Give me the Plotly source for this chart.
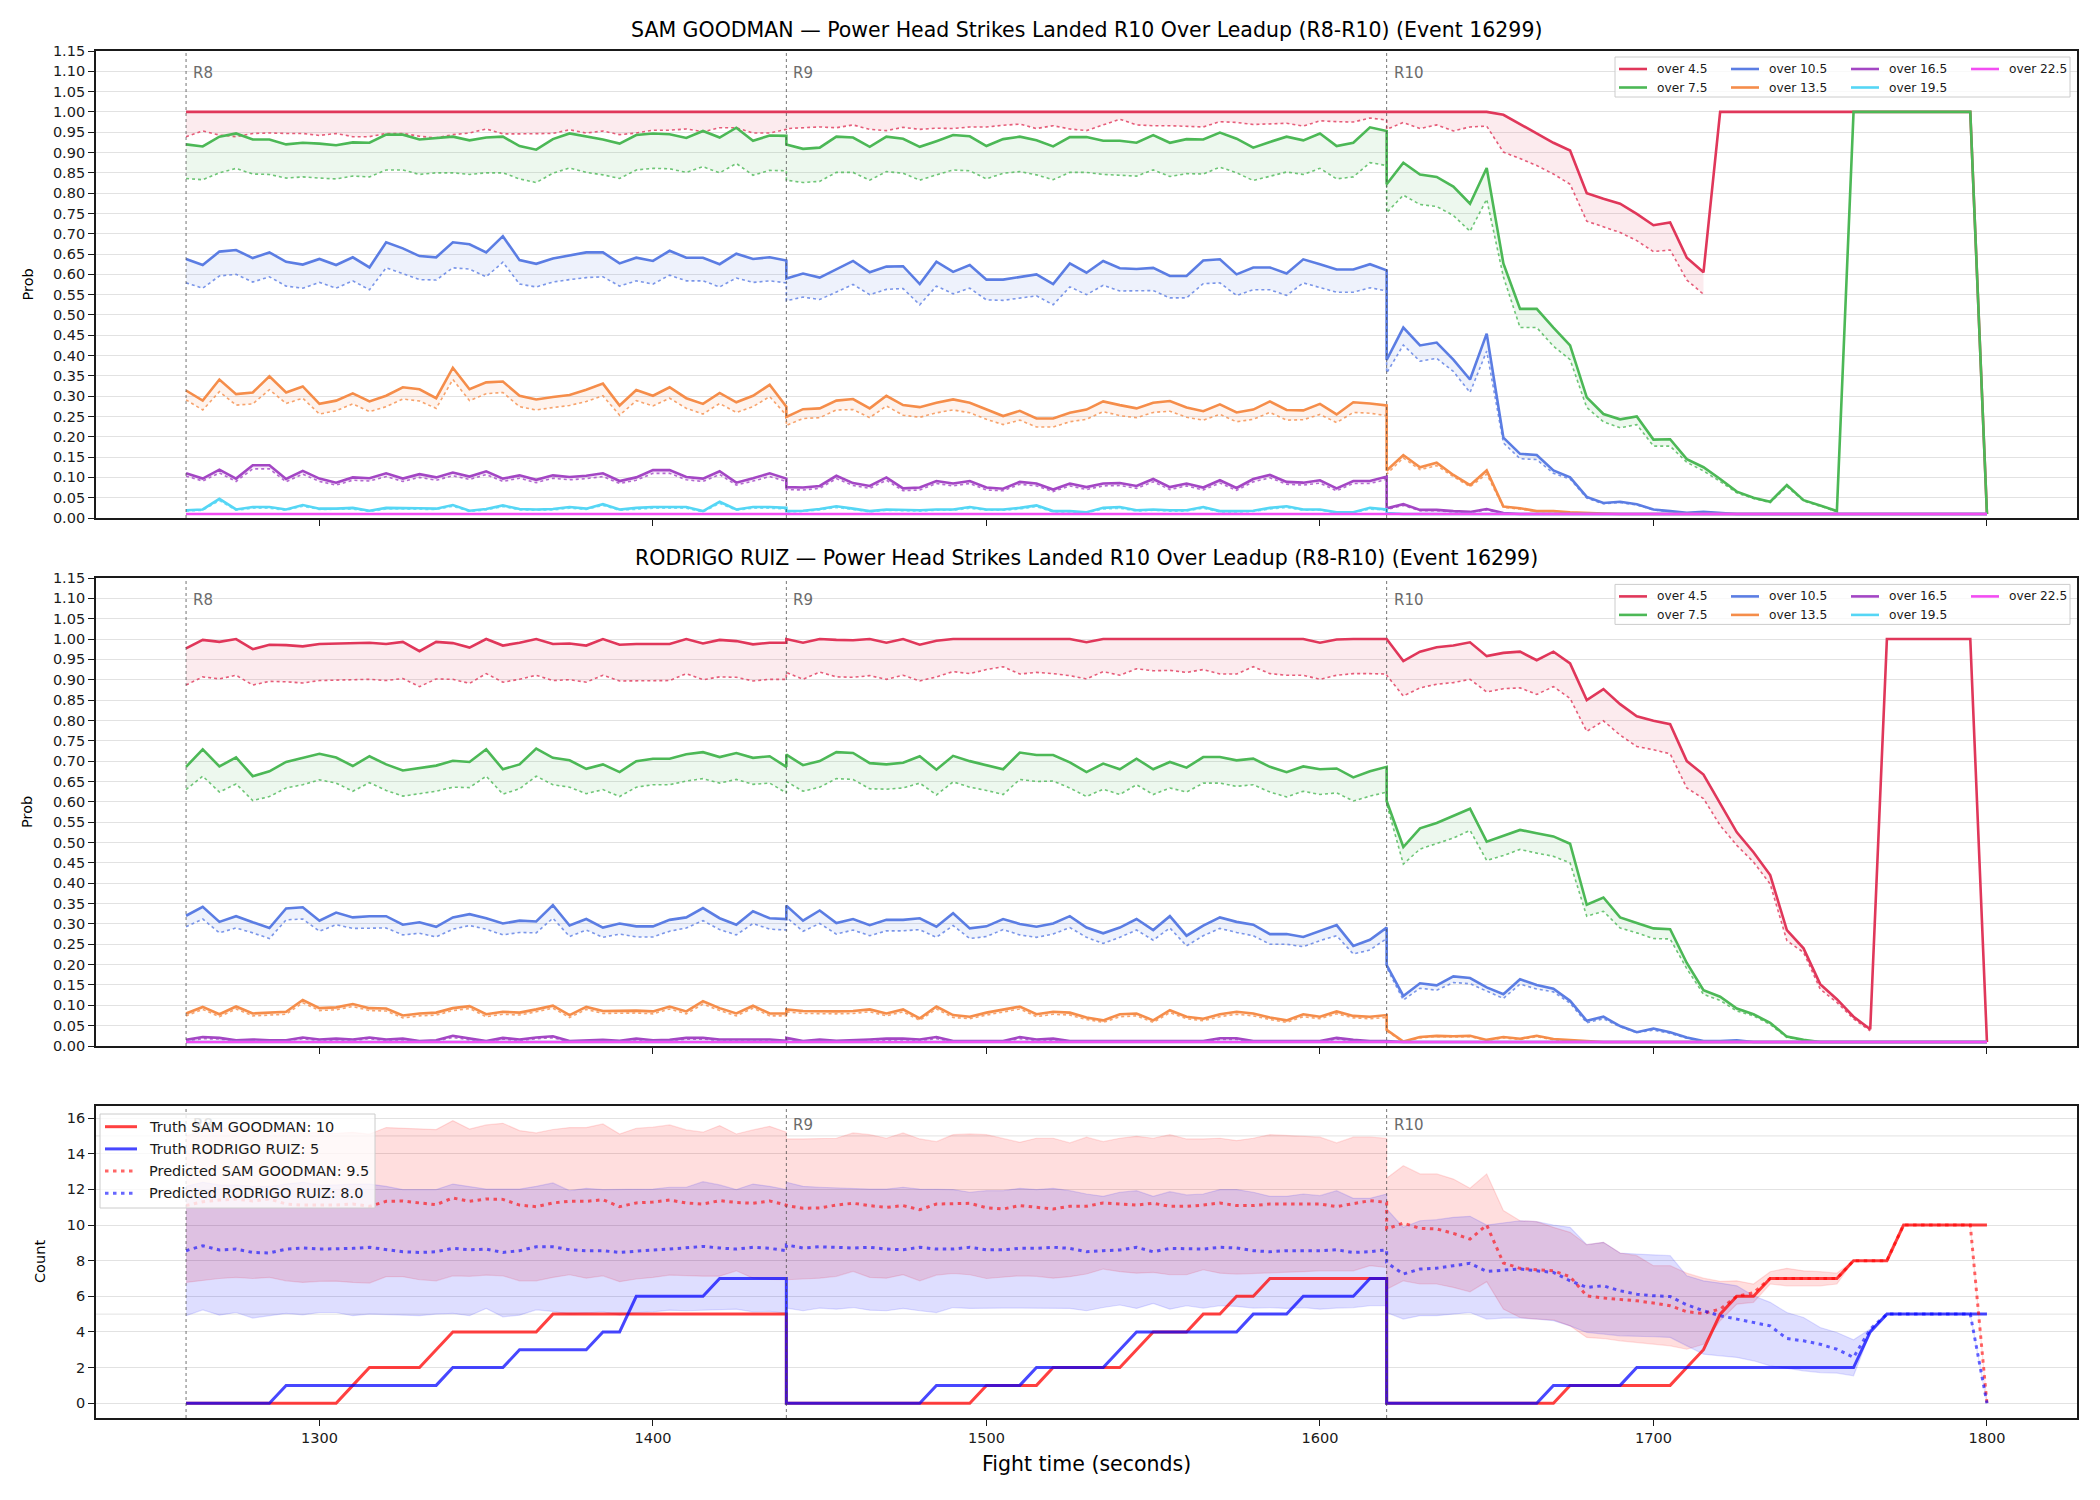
import plotly.graph_objects as go

W, H = 2100, 1500


def px(x):
    return x / W


def py(y):
    return 1 - y / H


# ---------------- time grid (each round sampled every 5 s) ----------------
ROUND_STARTS = [1260, 1440, 1620]
ROUND_NAMES = ["R8", "R9", "R10"]
T = [s + t for s in ROUND_STARTS for t in range(0, 181, 5)]

THRESHOLDS = ["over 4.5", "over 7.5", "over 10.5", "over 13.5", "over 16.5", "over 19.5", "over 22.5"]
COLORS = ["#E0375A", "#4CB856", "#5B7DE3", "#F58D4A", "#A346C4", "#55D6F5", "#F24DF2"]

# ---------------- SAM GOODMAN: solid prob + dotted lower ----------------
SAM_45 = ([1.0] * 37 + [1.0] * 37 +
          [1.0, 1.0, 1.0, 1.0, 1.0, 1.0, 1.0, 0.993, 0.970, 0.947, 0.924, 0.905, 0.800, 0.786, 0.774, 0.749, 0.721, 0.728, 0.641, 0.605]
          + [1.0] * 16 + [0.01])
SAM_45_LO = ([0.939, 0.953, 0.943, 0.939, 0.947, 0.948, 0.947, 0.947, 0.942, 0.947, 0.939, 0.939, 0.947, 0.947, 0.940, 0.936, 0.944, 0.948, 0.958, 0.946,
              0.946, 0.947, 0.947, 0.956, 0.948, 0.953, 0.944, 0.948, 0.955, 0.955, 0.958, 0.951, 0.961, 0.961, 0.948, 0.948, 0.957] +
             [0.959, 0.961, 0.963, 0.961, 0.968, 0.957, 0.954, 0.962, 0.957, 0.960, 0.959, 0.963, 0.963, 0.967, 0.970, 0.959, 0.966, 0.958, 0.954, 0.968,
              0.982, 0.968, 0.966, 0.966, 0.965, 0.963, 0.976, 0.974, 0.969, 0.970, 0.972, 0.965, 0.978, 0.976, 0.975, 0.985, 0.980] +
             [0.957, 0.974, 0.959, 0.968, 0.953, 0.963, 0.965, 0.901, 0.885, 0.868, 0.847, 0.822, 0.731, 0.717, 0.703, 0.683, 0.656, 0.660, 0.586, 0.551]
             + [None] * 17)
SAM_75 = ([0.920, 0.915, 0.939, 0.947, 0.932, 0.932, 0.920, 0.924, 0.922, 0.918, 0.925, 0.924, 0.944, 0.944, 0.932, 0.935, 0.939, 0.930, 0.937, 0.939,
           0.916, 0.907, 0.933, 0.947, 0.939, 0.932, 0.922, 0.943, 0.947, 0.945, 0.936, 0.953, 0.937, 0.961, 0.929, 0.942, 0.941] +
          [0.920, 0.909, 0.912, 0.939, 0.937, 0.914, 0.939, 0.934, 0.914, 0.928, 0.943, 0.940, 0.916, 0.933, 0.939, 0.930, 0.915, 0.938, 0.938, 0.929,
           0.929, 0.924, 0.943, 0.924, 0.933, 0.932, 0.949, 0.934, 0.912, 0.926, 0.939, 0.930, 0.947, 0.916, 0.924, 0.962, 0.953] +
          [0.822, 0.875, 0.846, 0.840, 0.816, 0.774, 0.862, 0.627, 0.515, 0.515, 0.469, 0.425, 0.297, 0.256, 0.243, 0.250, 0.193, 0.194, 0.145, 0.125,
           0.096, 0.065, 0.050, 0.040, 0.081, 0.044, 0.031, 0.017] + [1.0] * 8 + [0.01])
SAM_75_LO = ([0.836, 0.833, 0.850, 0.861, 0.847, 0.846, 0.837, 0.840, 0.837, 0.835, 0.842, 0.840, 0.857, 0.857, 0.846, 0.850, 0.850, 0.846, 0.850, 0.850,
              0.835, 0.826, 0.849, 0.862, 0.851, 0.845, 0.836, 0.857, 0.861, 0.860, 0.851, 0.865, 0.850, 0.873, 0.844, 0.856, 0.855] +
             [0.832, 0.826, 0.829, 0.851, 0.851, 0.832, 0.853, 0.849, 0.832, 0.845, 0.857, 0.855, 0.835, 0.849, 0.853, 0.845, 0.833, 0.851, 0.851, 0.846,
              0.844, 0.842, 0.857, 0.841, 0.848, 0.847, 0.864, 0.850, 0.831, 0.841, 0.852, 0.846, 0.861, 0.835, 0.840, 0.875, 0.868] +
             [0.752, 0.795, 0.772, 0.767, 0.745, 0.706, 0.785, 0.594, 0.469, 0.469, 0.423, 0.390, 0.272, 0.237, 0.222, 0.230, 0.177, 0.177, 0.137, 0.116,
              0.090, 0.062, 0.048, 0.038, 0.078, 0.042, 0.029, 0.016] + [None] * 9)
SAM_105 = ([0.638, 0.623, 0.656, 0.660, 0.640, 0.654, 0.631, 0.624, 0.638, 0.623, 0.642, 0.617, 0.679, 0.664, 0.645, 0.642, 0.679, 0.674, 0.654, 0.694,
            0.635, 0.626, 0.639, 0.646, 0.654, 0.654, 0.627, 0.641, 0.633, 0.658, 0.641, 0.641, 0.625, 0.651, 0.638, 0.642, 0.634] +
           [0.590, 0.602, 0.592, 0.612, 0.633, 0.605, 0.619, 0.620, 0.576, 0.631, 0.606, 0.623, 0.587, 0.587, 0.594, 0.600, 0.576, 0.627, 0.604, 0.633,
            0.615, 0.613, 0.616, 0.596, 0.596, 0.634, 0.637, 0.600, 0.617, 0.617, 0.602, 0.637, 0.625, 0.612, 0.612, 0.625, 0.610] +
           [0.389, 0.469, 0.425, 0.432, 0.390, 0.341, 0.454, 0.198, 0.158, 0.155, 0.117, 0.100, 0.052, 0.037, 0.040, 0.034, 0.021, 0.017, 0.013, 0.015,
            0.012] + [0.01] * 16)
SAM_105_LO = ([0.579, 0.566, 0.596, 0.600, 0.581, 0.594, 0.571, 0.566, 0.580, 0.566, 0.584, 0.562, 0.616, 0.602, 0.587, 0.586, 0.616, 0.613, 0.594, 0.630,
               0.576, 0.569, 0.581, 0.587, 0.592, 0.594, 0.571, 0.584, 0.576, 0.598, 0.584, 0.584, 0.569, 0.591, 0.580, 0.584, 0.579] +
              [0.535, 0.544, 0.538, 0.556, 0.575, 0.550, 0.563, 0.565, 0.525, 0.571, 0.552, 0.566, 0.537, 0.536, 0.542, 0.547, 0.525, 0.569, 0.550, 0.573,
               0.559, 0.559, 0.560, 0.542, 0.542, 0.577, 0.579, 0.548, 0.562, 0.562, 0.548, 0.579, 0.567, 0.556, 0.556, 0.567, 0.559] +
              [0.357, 0.426, 0.386, 0.393, 0.361, 0.309, 0.411, 0.185, 0.146, 0.144, 0.110, 0.096, 0.049, 0.035, 0.038, 0.032, 0.020, 0.016, 0.012, 0.014,
               0.011] + [0.01] * 16)
SAM_135 = ([0.314, 0.289, 0.341, 0.305, 0.309, 0.349, 0.309, 0.324, 0.281, 0.289, 0.307, 0.287, 0.301, 0.322, 0.317, 0.295, 0.370, 0.317, 0.334, 0.336,
            0.301, 0.292, 0.298, 0.303, 0.316, 0.331, 0.277, 0.315, 0.301, 0.322, 0.295, 0.281, 0.308, 0.285, 0.301, 0.328, 0.274] +
           [0.249, 0.268, 0.270, 0.289, 0.293, 0.270, 0.301, 0.278, 0.273, 0.284, 0.292, 0.284, 0.268, 0.251, 0.264, 0.245, 0.245, 0.259, 0.267, 0.287,
            0.278, 0.270, 0.284, 0.288, 0.272, 0.263, 0.280, 0.260, 0.267, 0.287, 0.266, 0.265, 0.281, 0.255, 0.285, 0.282, 0.277] +
           [0.117, 0.155, 0.125, 0.136, 0.106, 0.081, 0.117, 0.028, 0.024, 0.017, 0.017, 0.014, 0.012, 0.011] + [0.01] * 23)
SAM_135_LO = ([0.291, 0.266, 0.311, 0.278, 0.281, 0.316, 0.282, 0.295, 0.256, 0.264, 0.281, 0.262, 0.274, 0.293, 0.288, 0.270, 0.341, 0.289, 0.306, 0.309,
               0.274, 0.266, 0.272, 0.277, 0.287, 0.301, 0.253, 0.289, 0.276, 0.295, 0.270, 0.256, 0.282, 0.260, 0.274, 0.299, 0.253] +
              [0.228, 0.245, 0.247, 0.266, 0.267, 0.247, 0.276, 0.253, 0.248, 0.259, 0.266, 0.259, 0.243, 0.230, 0.241, 0.224, 0.224, 0.237, 0.243, 0.262,
               0.252, 0.247, 0.260, 0.263, 0.248, 0.241, 0.255, 0.237, 0.243, 0.260, 0.241, 0.242, 0.255, 0.235, 0.260, 0.258, 0.252] +
              [0.108, 0.148, 0.119, 0.129, 0.102, 0.077, 0.108, 0.026, 0.022, 0.016, 0.016, 0.013, 0.011, 0.010] + [0.01] * 23)
SAM_165 = ([0.110, 0.097, 0.119, 0.097, 0.130, 0.130, 0.096, 0.116, 0.097, 0.087, 0.100, 0.098, 0.110, 0.097, 0.108, 0.100, 0.112, 0.102, 0.115, 0.097,
            0.105, 0.094, 0.105, 0.101, 0.104, 0.110, 0.091, 0.100, 0.118, 0.118, 0.101, 0.097, 0.115, 0.087, 0.098, 0.110, 0.097] +
           [0.076, 0.075, 0.079, 0.104, 0.086, 0.079, 0.100, 0.073, 0.075, 0.091, 0.085, 0.091, 0.075, 0.072, 0.089, 0.085, 0.070, 0.085, 0.076, 0.085,
            0.086, 0.079, 0.096, 0.076, 0.085, 0.075, 0.093, 0.074, 0.096, 0.106, 0.089, 0.087, 0.093, 0.073, 0.091, 0.091, 0.102] +
           [0.024, 0.034, 0.020, 0.020, 0.017, 0.015, 0.022, 0.012] + [0.01] * 29)
SAM_165_LO = ([0.103, 0.091, 0.111, 0.090, 0.121, 0.121, 0.089, 0.108, 0.090, 0.081, 0.093, 0.091, 0.102, 0.090, 0.100, 0.093, 0.104, 0.095, 0.107, 0.090,
               0.098, 0.087, 0.098, 0.094, 0.097, 0.102, 0.085, 0.093, 0.110, 0.110, 0.094, 0.090, 0.107, 0.081, 0.091, 0.102, 0.090] +
              [0.070, 0.069, 0.073, 0.097, 0.080, 0.073, 0.093, 0.067, 0.069, 0.085, 0.079, 0.085, 0.069, 0.067, 0.083, 0.079, 0.065, 0.079, 0.070, 0.079,
               0.080, 0.073, 0.089, 0.070, 0.079, 0.069, 0.086, 0.068, 0.089, 0.099, 0.083, 0.081, 0.086, 0.067, 0.085, 0.085, 0.095] +
              [0.021, 0.031, 0.018, 0.018, 0.015, 0.013, 0.020, 0.011] + [0.01] * 29)
SAM_195 = ([0.019, 0.021, 0.047, 0.021, 0.027, 0.027, 0.021, 0.032, 0.023, 0.023, 0.025, 0.018, 0.025, 0.025, 0.024, 0.023, 0.032, 0.018, 0.022, 0.031,
            0.022, 0.021, 0.022, 0.027, 0.023, 0.034, 0.021, 0.025, 0.027, 0.027, 0.027, 0.017, 0.040, 0.021, 0.027, 0.027, 0.025] +
           [0.017, 0.018, 0.022, 0.029, 0.023, 0.017, 0.021, 0.020, 0.019, 0.021, 0.021, 0.027, 0.021, 0.021, 0.025, 0.031, 0.017, 0.017, 0.014, 0.025,
            0.027, 0.019, 0.021, 0.019, 0.019, 0.027, 0.017, 0.017, 0.018, 0.025, 0.029, 0.021, 0.021, 0.014, 0.014, 0.025, 0.021] +
           [0.012] + [0.01] * 36)
SAM_195_LO = ([0.017, 0.019, 0.043, 0.019, 0.024, 0.024, 0.019, 0.029, 0.021, 0.021, 0.022, 0.016, 0.022, 0.022, 0.022, 0.021, 0.029, 0.016, 0.020, 0.028,
               0.020, 0.019, 0.020, 0.024, 0.021, 0.031, 0.019, 0.022, 0.024, 0.024, 0.024, 0.015, 0.036, 0.019, 0.024, 0.024, 0.022] +
              [0.015, 0.016, 0.020, 0.026, 0.021, 0.015, 0.019, 0.018, 0.017, 0.019, 0.019, 0.024, 0.019, 0.019, 0.022, 0.028, 0.015, 0.015, 0.013, 0.022,
               0.024, 0.017, 0.019, 0.017, 0.017, 0.024, 0.015, 0.015, 0.016, 0.022, 0.026, 0.019, 0.019, 0.013, 0.013, 0.022, 0.019] +
              [0.011] + [0.01] * 36)
SAM_225 = [0.01] * 111
SAM_225_LO = [0.01] * 111

# ---------------- RODRIGO RUIZ ----------------
RUIZ_45 = ([0.977, 0.998, 0.993, 1.0, 0.975, 0.986, 0.985, 0.982, 0.988, 0.989, 0.991, 0.991, 0.988, 0.993, 0.970, 0.993, 0.990, 0.979, 1.0, 0.984,
            0.991, 1.0, 0.988, 0.989, 0.984, 1.0, 0.986, 0.988, 0.988, 0.988, 1.0, 0.989, 0.998, 0.995, 0.987, 0.991, 0.991] +
           [1.0, 0.991, 1.0, 0.998, 0.997, 1.0, 0.991, 1.0, 0.986, 0.996] + [1.0] * 8 + [0.992] + [1.0] * 13 + [0.991, 0.999, 1.0, 1.0, 1.0] +
           [1.0, 0.946, 0.969, 0.980, 0.984, 0.992, 0.958, 0.966, 0.969, 0.948, 0.969, 0.940, 0.850, 0.877, 0.840, 0.810, 0.799, 0.791, 0.700, 0.667,
            0.595, 0.525, 0.476, 0.420, 0.285, 0.240, 0.152, 0.115, 0.072, 0.041] + [1.0] * 6 + [0.01])
RUIZ_45_LO = ([0.887, 0.907, 0.902, 0.911, 0.887, 0.896, 0.895, 0.892, 0.898, 0.899, 0.901, 0.901, 0.898, 0.903, 0.883, 0.902, 0.901, 0.891, 0.915, 0.894,
               0.901, 0.911, 0.898, 0.900, 0.894, 0.911, 0.897, 0.897, 0.898, 0.898, 0.915, 0.900, 0.907, 0.906, 0.897, 0.901, 0.901] +
              [0.918, 0.901, 0.919, 0.907, 0.906, 0.910, 0.901, 0.911, 0.897, 0.907, 0.920, 0.915, 0.925, 0.932, 0.914, 0.918, 0.915, 0.910, 0.902, 0.920,
               0.911, 0.927, 0.922, 0.923, 0.918, 0.925, 0.914, 0.914, 0.932, 0.915, 0.911, 0.911, 0.901, 0.911, 0.915, 0.915, 0.914] +
              [0.911, 0.860, 0.880, 0.889, 0.893, 0.901, 0.870, 0.878, 0.880, 0.864, 0.883, 0.854, 0.773, 0.799, 0.764, 0.736, 0.728, 0.718, 0.634, 0.608,
               0.542, 0.493, 0.452, 0.398, 0.259, 0.230, 0.140, 0.107, 0.067, 0.037] + [None] * 7)
RUIZ_75 = ([0.686, 0.729, 0.687, 0.709, 0.663, 0.675, 0.698, 0.708, 0.718, 0.709, 0.688, 0.712, 0.692, 0.677, 0.683, 0.689, 0.701, 0.698, 0.729, 0.680,
            0.692, 0.731, 0.708, 0.702, 0.681, 0.692, 0.673, 0.700, 0.706, 0.706, 0.717, 0.722, 0.710, 0.720, 0.708, 0.712, 0.686] +
           [0.716, 0.690, 0.700, 0.722, 0.720, 0.695, 0.692, 0.696, 0.712, 0.679, 0.713, 0.700, 0.690, 0.680, 0.721, 0.715, 0.715, 0.697, 0.673, 0.694,
            0.680, 0.706, 0.680, 0.698, 0.684, 0.710, 0.710, 0.702, 0.706, 0.686, 0.673, 0.687, 0.680, 0.682, 0.660, 0.675, 0.686] +
           [0.602, 0.489, 0.535, 0.548, 0.565, 0.583, 0.502, 0.516, 0.531, 0.523, 0.515, 0.497, 0.347, 0.365, 0.316, 0.302, 0.289, 0.287, 0.204, 0.137,
            0.121, 0.092, 0.078, 0.057, 0.023, 0.015] + [0.01] * 11)
RUIZ_75_LO = ([0.630, 0.663, 0.624, 0.644, 0.603, 0.613, 0.634, 0.642, 0.654, 0.646, 0.626, 0.647, 0.628, 0.614, 0.620, 0.626, 0.636, 0.635, 0.663, 0.619,
               0.632, 0.663, 0.642, 0.636, 0.620, 0.630, 0.613, 0.636, 0.642, 0.642, 0.651, 0.657, 0.646, 0.655, 0.643, 0.646, 0.622] +
              [0.650, 0.626, 0.636, 0.657, 0.655, 0.632, 0.631, 0.634, 0.646, 0.617, 0.649, 0.636, 0.628, 0.618, 0.655, 0.650, 0.651, 0.634, 0.613, 0.631,
               0.618, 0.642, 0.618, 0.634, 0.624, 0.646, 0.646, 0.638, 0.642, 0.624, 0.612, 0.626, 0.618, 0.622, 0.602, 0.614, 0.624] +
              [0.595, 0.447, 0.484, 0.497, 0.511, 0.530, 0.456, 0.468, 0.483, 0.474, 0.466, 0.450, 0.319, 0.331, 0.290, 0.278, 0.264, 0.263, 0.190, 0.127,
               0.112, 0.086, 0.074, 0.053, 0.021, 0.014] + [0.01] * 11)
RUIZ_105 = ([0.320, 0.342, 0.305, 0.319, 0.304, 0.290, 0.338, 0.341, 0.308, 0.328, 0.316, 0.319, 0.319, 0.298, 0.304, 0.293, 0.316, 0.324, 0.314, 0.301,
             0.308, 0.306, 0.346, 0.296, 0.312, 0.291, 0.301, 0.294, 0.294, 0.310, 0.316, 0.339, 0.314, 0.298, 0.331, 0.314, 0.312] +
            [0.345, 0.308, 0.333, 0.302, 0.312, 0.297, 0.310, 0.310, 0.314, 0.293, 0.326, 0.289, 0.294, 0.312, 0.300, 0.293, 0.301, 0.319, 0.291, 0.277,
             0.291, 0.312, 0.285, 0.319, 0.271, 0.296, 0.316, 0.305, 0.298, 0.275, 0.275, 0.268, 0.283, 0.297, 0.246, 0.261, 0.291] +
            [0.199, 0.123, 0.154, 0.149, 0.171, 0.167, 0.144, 0.127, 0.164, 0.150, 0.141, 0.111, 0.062, 0.072, 0.049, 0.034, 0.043, 0.034, 0.021, 0.012,
             0.012, 0.014] + [0.01] * 15)
RUIZ_105_LO = ([0.293, 0.312, 0.278, 0.290, 0.278, 0.264, 0.310, 0.312, 0.282, 0.298, 0.289, 0.290, 0.290, 0.273, 0.277, 0.268, 0.287, 0.296, 0.287, 0.273,
                0.279, 0.278, 0.314, 0.269, 0.285, 0.267, 0.275, 0.268, 0.268, 0.282, 0.290, 0.308, 0.286, 0.273, 0.301, 0.287, 0.285] +
               [0.316, 0.282, 0.301, 0.275, 0.285, 0.271, 0.283, 0.283, 0.286, 0.267, 0.296, 0.264, 0.269, 0.286, 0.273, 0.267, 0.275, 0.291, 0.267, 0.252,
                0.267, 0.285, 0.260, 0.290, 0.246, 0.271, 0.289, 0.279, 0.271, 0.250, 0.250, 0.244, 0.259, 0.271, 0.226, 0.236, 0.264] +
               [0.193, 0.113, 0.142, 0.137, 0.156, 0.153, 0.134, 0.117, 0.152, 0.140, 0.133, 0.105, 0.057, 0.067, 0.047, 0.033, 0.039, 0.031, 0.019, 0.011,
                0.011, 0.012] + [0.01] * 15)
RUIZ_135 = ([0.080, 0.096, 0.078, 0.097, 0.080, 0.082, 0.084, 0.113, 0.093, 0.095, 0.103, 0.093, 0.092, 0.075, 0.080, 0.082, 0.093, 0.098, 0.078, 0.084,
             0.082, 0.090, 0.099, 0.076, 0.096, 0.086, 0.087, 0.087, 0.085, 0.097, 0.085, 0.110, 0.093, 0.080, 0.099, 0.080, 0.080] +
            [0.090, 0.086, 0.085, 0.085, 0.086, 0.090, 0.080, 0.090, 0.068, 0.097, 0.076, 0.072, 0.082, 0.090, 0.097, 0.078, 0.084, 0.082, 0.070, 0.063,
             0.078, 0.080, 0.063, 0.088, 0.072, 0.067, 0.078, 0.084, 0.080, 0.070, 0.063, 0.078, 0.072, 0.085, 0.074, 0.072, 0.076] +
            [0.040, 0.011, 0.022, 0.025, 0.024, 0.025, 0.015, 0.022, 0.018, 0.025, 0.017, 0.014, 0.012] + [0.01] * 24)
RUIZ_135_LO = ([0.074, 0.090, 0.072, 0.091, 0.074, 0.076, 0.078, 0.106, 0.087, 0.089, 0.097, 0.087, 0.086, 0.069, 0.074, 0.076, 0.087, 0.092, 0.072, 0.078,
                0.076, 0.084, 0.093, 0.070, 0.090, 0.080, 0.081, 0.081, 0.079, 0.091, 0.079, 0.103, 0.087, 0.074, 0.093, 0.074, 0.074] +
               [0.084, 0.080, 0.079, 0.079, 0.080, 0.084, 0.074, 0.084, 0.063, 0.091, 0.070, 0.067, 0.076, 0.084, 0.091, 0.072, 0.078, 0.076, 0.065, 0.058,
                0.072, 0.074, 0.058, 0.082, 0.067, 0.062, 0.072, 0.078, 0.074, 0.065, 0.058, 0.072, 0.067, 0.079, 0.069, 0.067, 0.070] +
               [0.037, 0.010, 0.020, 0.023, 0.022, 0.023, 0.014, 0.020, 0.016, 0.023, 0.015, 0.013, 0.011] + [0.01] * 24)
RUIZ_165 = ([0.015, 0.022, 0.020, 0.014, 0.016, 0.014, 0.014, 0.021, 0.016, 0.018, 0.016, 0.021, 0.016, 0.018, 0.012, 0.014, 0.025, 0.018, 0.012, 0.020,
             0.016, 0.021, 0.024, 0.012, 0.013, 0.015, 0.013, 0.018, 0.014, 0.015, 0.020, 0.020, 0.016, 0.016, 0.016, 0.016, 0.013] +
            [0.020, 0.012, 0.016, 0.013, 0.014, 0.016, 0.018, 0.018, 0.016, 0.022, 0.012, 0.012, 0.012, 0.012, 0.022, 0.016, 0.018, 0.012, 0.012, 0.012,
             0.012, 0.012, 0.012, 0.012, 0.012, 0.012, 0.019, 0.019, 0.012, 0.012, 0.012, 0.012, 0.012, 0.020, 0.015, 0.012, 0.012] +
            [0.012] + [0.01] * 36)
RUIZ_165_LO = ([0.012, 0.018, 0.017, 0.012, 0.013, 0.012, 0.012, 0.018, 0.013, 0.015, 0.013, 0.018, 0.013, 0.015, 0.010, 0.012, 0.021, 0.015, 0.010, 0.017,
                0.013, 0.018, 0.020, 0.010, 0.011, 0.012, 0.011, 0.015, 0.012, 0.012, 0.017, 0.017, 0.013, 0.013, 0.013, 0.013, 0.011] +
               [0.017, 0.010, 0.013, 0.011, 0.012, 0.013, 0.015, 0.015, 0.013, 0.018, 0.010, 0.010, 0.010, 0.010, 0.018, 0.013, 0.015, 0.010, 0.010, 0.010,
                0.010, 0.010, 0.010, 0.010, 0.010, 0.010, 0.016, 0.016, 0.010, 0.010, 0.010, 0.010, 0.010, 0.017, 0.012, 0.010, 0.010] +
               [0.01] * 37)
RUIZ_195 = [0.01] * 111
RUIZ_195_LO = [0.01] * 111
RUIZ_225 = [0.01] * 111
RUIZ_225_LO = [0.01] * 111

# ---------------- counts panel ----------------
TRUTH_SAM = ([0, 0, 0, 0, 0, 0, 0, 0, 0, 0, 1, 2, 2, 2, 2, 3, 4, 4, 4, 4, 4, 4, 5, 5, 5, 5, 5, 5, 5, 5, 5, 5, 5, 5, 5, 5, 5] +
             [0, 0, 0, 0, 0, 0, 0, 0, 0, 0, 0, 0, 1, 1, 1, 1, 2, 2, 2, 2, 2, 3, 4, 4, 4, 5, 5, 6, 6, 7, 7, 7, 7, 7, 7, 7, 7] +
             [0, 0, 0, 0, 0, 0, 0, 0, 0, 0, 0, 1, 1, 1, 1, 1, 1, 1, 2, 3, 5, 6, 6, 7, 7, 7, 7, 7, 8, 8, 8, 10, 10, 10, 10, 10, 10])
TRUTH_RUIZ = ([0, 0, 0, 0, 0, 0, 1, 1, 1, 1, 1, 1, 1, 1, 1, 1, 2, 2, 2, 2, 3, 3, 3, 3, 3, 4, 4, 6, 6, 6, 6, 6, 7, 7, 7, 7, 7] +
              [0, 0, 0, 0, 0, 0, 0, 0, 0, 1, 1, 1, 1, 1, 1, 2, 2, 2, 2, 2, 3, 4, 4, 4, 4, 4, 4, 4, 5, 5, 5, 6, 6, 6, 6, 7, 7] +
              [0, 0, 0, 0, 0, 0, 0, 0, 0, 0, 1, 1, 1, 1, 1, 2, 2, 2, 2, 2, 2, 2, 2, 2, 2, 2, 2, 2, 2, 4, 5, 5, 5, 5, 5, 5, 5])
PRED_SAM = ([11.09, 11.31, 11.40, 11.46, 11.35, 11.46, 11.18, 11.12, 11.12, 11.12, 11.18, 11.05, 11.33, 11.35, 11.24, 11.14, 11.52, 11.33, 11.46, 11.44,
             11.12, 11.03, 11.24, 11.33, 11.33, 11.42, 11.03, 11.24, 11.29, 11.40, 11.24, 11.18, 11.37, 11.27, 11.22, 11.35, 11.12] +
            [11.09, 10.94, 10.96, 11.12, 11.22, 11.09, 10.99, 11.09, 10.86, 11.18, 11.18, 11.22, 10.97, 10.90, 11.09, 10.99, 10.90, 11.05, 11.05, 11.24,
             11.18, 11.12, 11.22, 11.05, 11.05, 11.12, 11.24, 11.09, 11.09, 11.18, 11.18, 11.18, 11.18, 11.03, 11.18, 11.37, 11.27] +
            [9.78, 10.11, 9.81, 9.78, 9.53, 9.21, 10.0, 7.87, 7.57, 7.49, 7.43, 7.10, 6.03, 5.90, 5.84, 5.75, 5.62, 5.47, 5.13, 5.04,
             5.28, 6.0, 6.2, 7.0, 7.0, 7.0, 7.0, 7.0, 8.0, 8.0, 8.0, 10.0, 10.0, 10.0, 10.0, 10.0, 0.0])
BAND_SAM_HI = ([15.0, 15.3, 15.4, 15.5, 15.35, 15.5, 15.2, 15.15, 15.2, 15.15, 15.2, 15.1, 15.47, 15.43, 15.43, 15.36, 15.86, 15.39, 15.62, 15.71,
                15.30, 15.17, 15.36, 15.47, 15.47, 15.67, 15.11, 15.43, 15.49, 15.62, 15.34, 15.21, 15.58, 15.11, 15.34, 15.54, 15.21] +
               [14.83, 14.83, 14.83, 14.87, 15.17, 15.07, 14.87, 15.17, 14.83, 14.68, 15.07, 15.11, 15.07, 14.87, 14.64, 14.87, 14.87, 14.61, 14.93, 14.68,
                14.87, 14.98, 14.87, 15.07, 14.83, 14.83, 14.87, 14.74, 14.87, 15.07, 15.02, 14.96, 14.93, 14.61, 14.93, 14.93, 14.87] +
               [12.62, 13.33, 12.87, 12.87, 12.58, 12.06, 12.87, 10.81, 10.24, 10.19, 9.87, 9.59, 8.90, 9.03, 8.43, 8.28, 7.72, 7.72, 7.30, 7.02,
                6.84, 6.87, 6.69, 7.38, 7.57, 7.43, 7.38, 7.30, 8.0, 8.0, 8.0, 10.0, 10.0, 10.0, 10.0, 10.0, 0.0])
BAND_SAM_LO = ([6.78, 6.91, 7.00, 7.06, 7.00, 7.06, 6.87, 6.78, 6.84, 6.85, 6.78, 6.74, 7.10, 7.10, 6.93, 6.87, 7.15, 7.12, 7.19, 7.15,
                6.87, 6.87, 7.06, 7.21, 7.02, 7.15, 6.82, 6.97, 7.06, 7.19, 7.15, 7.13, 7.13, 7.43, 7.02, 6.95, 6.93] +
               [6.93, 6.97, 7.02, 7.12, 7.40, 7.06, 7.02, 7.21, 6.87, 7.19, 7.28, 7.21, 7.00, 7.06, 7.15, 7.12, 7.02, 7.10, 7.25, 7.53,
                7.38, 7.30, 7.34, 7.21, 7.21, 7.49, 7.30, 7.25, 7.30, 7.34, 7.34, 7.38, 7.43, 7.43, 7.43, 7.72, 7.62] +
               [6.40, 6.87, 6.69, 6.69, 6.50, 6.25, 6.82, 5.28, 4.81, 4.72, 4.68, 4.34, 3.69, 3.63, 3.50, 3.37, 3.31, 3.22, 3.03, 3.31,
                4.63, 5.56, 5.66, 6.69, 6.59, 6.59, 6.59, 6.69, 8.0, 8.0, 8.0, 10.0, 10.0, 10.0, 10.0, 10.0, 0.0])
PRED_RUIZ = ([8.56, 8.84, 8.60, 8.65, 8.46, 8.43, 8.65, 8.71, 8.65, 8.65, 8.69, 8.75, 8.61, 8.50, 8.46, 8.50, 8.69, 8.61, 8.65, 8.46,
              8.56, 8.78, 8.78, 8.61, 8.56, 8.56, 8.46, 8.54, 8.60, 8.65, 8.71, 8.80, 8.71, 8.65, 8.75, 8.69, 8.56] +
             [8.88, 8.71, 8.78, 8.75, 8.71, 8.75, 8.65, 8.61, 8.75, 8.65, 8.65, 8.75, 8.61, 8.61, 8.69, 8.69, 8.75, 8.69, 8.50, 8.56,
              8.60, 8.75, 8.50, 8.69, 8.65, 8.65, 8.75, 8.71, 8.56, 8.50, 8.56, 8.56, 8.56, 8.61, 8.46, 8.50, 8.61] +
             [7.90, 7.25, 7.53, 7.58, 7.72, 7.85, 7.40, 7.47, 7.53, 7.43, 7.34, 6.87, 6.50, 6.59, 6.31, 6.12, 6.03, 5.99, 5.52, 5.19,
              4.91, 4.72, 4.53, 4.34, 3.63, 3.50, 3.31, 3.03, 2.57, 4.16, 5.0, 5.0, 5.0, 5.0, 5.0, 5.0, 0.0])
BAND_RUIZ_HI = ([12.17, 12.40, 12.25, 12.25, 12.17, 12.17, 12.30, 12.40, 12.25, 12.25, 12.30, 12.30, 12.17, 11.99, 11.99, 11.99, 12.30, 12.17, 12.02, 12.02,
                 12.02, 12.17, 12.36, 11.93, 12.06, 11.99, 11.99, 12.02, 12.02, 12.12, 12.12, 12.43, 12.25, 11.99, 12.30, 12.17, 11.99] +
                [12.40, 12.17, 12.12, 12.08, 12.06, 12.02, 12.02, 12.12, 12.02, 12.02, 11.99, 11.84, 11.93, 11.93, 12.06, 11.99, 12.06, 11.93, 11.74, 11.61,
                 11.84, 11.93, 11.61, 11.87, 11.69, 11.74, 11.99, 11.99, 11.84, 11.61, 11.61, 11.74, 11.65, 11.93, 11.50, 11.50, 11.74] +
                [10.9, 9.87, 10.24, 10.30, 10.43, 10.49, 10.0, 10.11, 10.24, 10.19, 10.0, 9.87, 8.90, 9.03, 8.43, 8.37, 8.33, 8.28, 7.15, 6.87,
                 6.74, 6.59, 6.03, 5.66, 5.09, 4.81, 4.25, 3.97, 3.56, 4.16, 5.0, 5.0, 5.0, 5.0, 5.0, 5.0, 0.0])
BAND_RUIZ_LO = ([4.91, 5.24, 4.94, 5.09, 4.78, 4.91, 5.04, 4.96, 5.09, 5.09, 4.91, 5.00, 4.94, 4.94, 4.91, 5.00, 5.04, 4.91, 5.32, 4.85,
                 4.94, 5.24, 5.15, 5.00, 5.06, 5.13, 4.94, 5.09, 5.13, 5.22, 5.19, 5.22, 5.24, 5.28, 5.13, 5.15, 5.06] +
                [5.34, 5.19, 5.34, 5.28, 5.37, 5.22, 5.19, 5.32, 5.19, 5.09, 5.37, 5.32, 5.32, 5.34, 5.34, 5.34, 5.34, 5.32, 5.19, 5.37,
                 5.51, 5.32, 5.60, 5.28, 5.47, 5.34, 5.47, 5.43, 5.34, 5.37, 5.32, 5.37, 5.28, 5.34, 5.37, 5.47, 5.47] +
                [5.09, 4.72, 4.91, 4.91, 5.0, 5.09, 4.72, 4.78, 4.78, 4.72, 4.63, 4.34, 3.97, 3.88, 3.78, 3.75, 3.73, 3.69, 3.22, 2.75,
                 2.66, 2.57, 2.38, 2.10, 1.95, 1.82, 1.72, 1.69, 1.54, 3.97, 5.0, 5.0, 5.0, 5.0, 5.0, 5.0, 0.0])

SAM_SOLID = [SAM_45, SAM_75, SAM_105, SAM_135, SAM_165, SAM_195, SAM_225]
SAM_LOW = [SAM_45_LO, SAM_75_LO, SAM_105_LO, SAM_135_LO, SAM_165_LO, SAM_195_LO, SAM_225_LO]
RUIZ_SOLID = [RUIZ_45, RUIZ_75, RUIZ_105, RUIZ_135, RUIZ_165, RUIZ_195, RUIZ_225]
RUIZ_LOW = [RUIZ_45_LO, RUIZ_75_LO, RUIZ_105_LO, RUIZ_135_LO, RUIZ_165_LO, RUIZ_195_LO, RUIZ_225_LO]

for arr in SAM_SOLID + SAM_LOW + RUIZ_SOLID + RUIZ_LOW + [TRUTH_SAM, TRUTH_RUIZ, PRED_SAM, PRED_RUIZ,
                                                          BAND_SAM_HI, BAND_SAM_LO, BAND_RUIZ_HI, BAND_RUIZ_LO]:
    assert len(arr) == len(T), len(arr)


def rgba(hexcol, a):
    h = hexcol.lstrip("#")
    r, g, b = int(h[0:2], 16), int(h[2:4], 16), int(h[4:6], 16)
    return f"rgba({r},{g},{b},{a})"


def polygon(x, hi, lo):
    idx = [k for k in range(len(x)) if hi[k] is not None and lo[k] is not None]
    xs = [x[k] for k in idx] + [x[k] for k in reversed(idx)]
    ys = [hi[k] for k in idx] + [lo[k] for k in reversed(idx)]
    return xs, ys


fig = go.Figure()


def add_prob_panel(solids, lows, xa, ya):
    for i in range(len(THRESHOLDS)):
        col = COLORS[i]
        xs, ys = polygon(T, solids[i], lows[i])
        fig.add_trace(go.Scatter(x=xs, y=ys, fill="toself", fillcolor=rgba(col, 0.10), mode="lines",
                                 line=dict(width=0), xaxis=xa, yaxis=ya, hoverinfo="skip", showlegend=False))
        fig.add_trace(go.Scatter(x=T, y=lows[i], mode="lines", line=dict(color=rgba(col, 0.8), width=1.6, dash="dot"),
                                 xaxis=xa, yaxis=ya, showlegend=False, connectgaps=False))
        fig.add_trace(go.Scatter(x=T, y=solids[i], mode="lines", line=dict(color=col, width=2.6),
                                 xaxis=xa, yaxis=ya, name=THRESHOLDS[i], showlegend=False))


add_prob_panel(SAM_SOLID, SAM_LOW, "x", "y")
add_prob_panel(RUIZ_SOLID, RUIZ_LOW, "x2", "y2")

# counts panel
RED, BLUE = "#FF0000", "#0000FF"
PRED_DASH = "3.5px,4.5px"
for hi, lo, col in [(BAND_SAM_HI, BAND_SAM_LO, RED), (BAND_RUIZ_HI, BAND_RUIZ_LO, BLUE)]:
    xs, ys = polygon(T, hi, lo)
    fig.add_trace(go.Scatter(x=xs, y=ys, fill="toself", fillcolor=rgba(col, 0.13), mode="lines",
                             line=dict(color=rgba(col, 0.12), width=1.2), xaxis="x3", yaxis="y3",
                             hoverinfo="skip", showlegend=False))
fig.add_trace(go.Scatter(x=T, y=TRUTH_SAM, mode="lines", line=dict(color=rgba(RED, 0.75), width=3),
                         xaxis="x3", yaxis="y3", showlegend=False))
fig.add_trace(go.Scatter(x=T, y=TRUTH_RUIZ, mode="lines", line=dict(color=rgba(BLUE, 0.72), width=3),
                         xaxis="x3", yaxis="y3", showlegend=False))
fig.add_trace(go.Scatter(x=T, y=PRED_SAM, mode="lines", line=dict(color=rgba(RED, 0.6), width=3, dash=PRED_DASH),
                         xaxis="x3", yaxis="y3", showlegend=False))
fig.add_trace(go.Scatter(x=T, y=PRED_RUIZ, mode="lines", line=dict(color=rgba(BLUE, 0.6), width=3, dash=PRED_DASH),
                         xaxis="x3", yaxis="y3", showlegend=False))

# ---------------- axes ----------------
X_DOM = [px(96), px(2077)]
SPINE = "#1a1a1a"
GRID = "#e2e2e2"
TICKFONT = dict(family="DejaVu Sans", size=14.5, color="#1a1a1a")
xcommon = dict(domain=X_DOM, range=[1233, 1827], tickvals=[1300, 1400, 1500, 1600, 1700, 1800],
               ticks="outside", ticklen=6, tickwidth=1.4, tickcolor=SPINE, showline=True, linecolor=SPINE,
               linewidth=1.8, mirror=True, showgrid=False, zeroline=False, tickfont=TICKFONT, automargin=False)
ycommon = dict(ticks="outside", ticklen=6, tickwidth=1.4, tickcolor=SPINE, showline=True, linecolor=SPINE,
               linewidth=1.8, mirror=True, showgrid=True, gridcolor=GRID, gridwidth=1, zeroline=False,
               tickfont=TICKFONT, automargin=False)

P1 = [py(518), py(51)]
P2 = [py(1046), py(578)]
P3 = [py(1418), py(1106)]

fig.update_layout(
    template="none", width=W, height=H, margin=dict(l=0, r=0, t=0, b=0),
    paper_bgcolor="white", plot_bgcolor="white", showlegend=False,
    font=dict(family="DejaVu Sans", color="#1a1a1a"),
    xaxis=dict(xcommon, anchor="y", showticklabels=False),
    xaxis2=dict(xcommon, anchor="y2", matches="x", showticklabels=False),
    xaxis3=dict(xcommon, anchor="y3", matches="x", showticklabels=True),
    yaxis=dict(ycommon, domain=P1, anchor="x", range=[0, 1.15], tick0=0, dtick=0.05, tickformat=".2f"),
    yaxis2=dict(ycommon, domain=P2, anchor="x2", range=[0, 1.15], tick0=0, dtick=0.05, tickformat=".2f"),
    yaxis3=dict(ycommon, domain=P3, anchor="x3", range=[-0.83, 16.68], tick0=0, dtick=2),
)

shapes = []
annotations = []

# extra reference lines in counts panel
for yv in [5, 15]:
    shapes.append(dict(type="line", xref="paper", yref="y3", x0=X_DOM[0], x1=X_DOM[1], y0=yv, y1=yv,
                       line=dict(color=GRID, width=1), layer="below"))

# round separators and labels
label_y = {"y": 1.095, "y2": 1.097, "y3": 15.6}
for xa, ya in [("x", "y"), ("x2", "y2"), ("x3", "y3")]:
    for s, name in zip(ROUND_STARTS, ROUND_NAMES):
        shapes.append(dict(type="line", xref=xa, yref=f"{ya} domain", x0=s, x1=s, y0=0, y1=1,
                           line=dict(color="rgba(70,70,70,0.75)", width=1, dash="dot"), layer="above"))
        col = "#6b6b6b"
        if ya == "y3" and name == "R8":
            col = "#e2e2e2"  # sits behind the semi-opaque legend in the original
        annotations.append(dict(text=name, xref=xa, yref=ya, x=s, y=label_y[ya], xshift=5, xanchor="left",
                                yanchor="middle", showarrow=False, font=dict(size=15, color=col)))

# titles / axis labels
XC = (X_DOM[0] + X_DOM[1]) / 2
annotations += [
    dict(text="SAM GOODMAN — Power Head Strikes Landed R10 Over Leadup (R8-R10) (Event 16299)", xref="paper", yref="paper",
         x=XC, y=py(29.5), showarrow=False, xanchor="center", yanchor="middle", font=dict(size=20.5, color="#000")),
    dict(text="RODRIGO RUIZ — Power Head Strikes Landed R10 Over Leadup (R8-R10) (Event 16299)", xref="paper", yref="paper",
         x=XC, y=py(558), showarrow=False, xanchor="center", yanchor="middle", font=dict(size=20.5, color="#000")),
    dict(text="Fight time (seconds)", xref="paper", yref="paper", x=XC, y=py(1463.5), showarrow=False,
         xanchor="center", yanchor="middle", font=dict(size=20.5, color="#000")),
    dict(text="Prob", xref="paper", yref="paper", x=px(27), y=py(284.5), textangle=-90, showarrow=False,
         xanchor="center", yanchor="middle", font=dict(size=14.5, color="#000")),
    dict(text="Prob", xref="paper", yref="paper", x=px(27), y=py(812), textangle=-90, showarrow=False,
         xanchor="center", yanchor="middle", font=dict(size=14.5, color="#000")),
    dict(text="Count", xref="paper", yref="paper", x=px(40), y=py(1262), textangle=-90, showarrow=False,
         xanchor="center", yanchor="middle", font=dict(size=14.5, color="#000")),
]

# legends for the two probability panels (4 columns, 2 rows, column-major)
COLS_X = [(1619, 1647, 1655), (1731, 1759, 1767), (1851, 1879, 1887), (1971, 1999, 2007)]
for top in [51, 578.4]:
    shapes.append(dict(type="rect", xref="paper", yref="paper", x0=px(1615), x1=px(2070), y0=py(top + 6), y1=py(top + 46),
                       fillcolor="rgba(255,255,255,0.8)", line=dict(color="#cccccc", width=1), layer="above"))
    for i, lab in enumerate(THRESHOLDS):
        c, r = i // 2, i % 2
        yy = top + 18 + r * 18.5
        x0, x1, xt = COLS_X[c]
        shapes.append(dict(type="line", xref="paper", yref="paper", x0=px(x0), x1=px(x1), y0=py(yy), y1=py(yy),
                           line=dict(color=COLORS[i], width=2.6), layer="above"))
        annotations.append(dict(text=lab, xref="paper", yref="paper", x=px(xt), y=py(yy), xanchor="left",
                                yanchor="middle", showarrow=False, font=dict(size=12.2, color="#1a1a1a")))

# legend for counts panel
shapes.append(dict(type="rect", xref="paper", yref="paper", x0=px(100), x1=px(375), y0=py(1114), y1=py(1208),
                   fillcolor="rgba(255,255,255,0.8)", line=dict(color="#cccccc", width=1), layer="above"))
LEG3 = [("Truth SAM GOODMAN: 10", rgba(RED, 0.75), "solid"),
        ("Truth RODRIGO RUIZ: 5", rgba(BLUE, 0.72), "solid"),
        ("Predicted SAM GOODMAN: 9.5", rgba(RED, 0.6), PRED_DASH),
        ("Predicted RODRIGO RUIZ: 8.0", rgba(BLUE, 0.6), PRED_DASH)]
for j, (lab, col, dash) in enumerate(LEG3):
    yy = 1126.7 + j * 22.2
    shapes.append(dict(type="line", xref="paper", yref="paper", x0=px(105), x1=px(137), y0=py(yy), y1=py(yy),
                       line=dict(color=col, width=3, dash=dash), layer="above"))
    annotations.append(dict(text=lab, xref="paper", yref="paper", x=px(147), y=py(yy), xanchor="left",
                            yanchor="middle", showarrow=False, font=dict(size=14.5, color="#1a1a1a")))

fig.update_layout(shapes=shapes, annotations=annotations)
fig.write_html("out.html")
